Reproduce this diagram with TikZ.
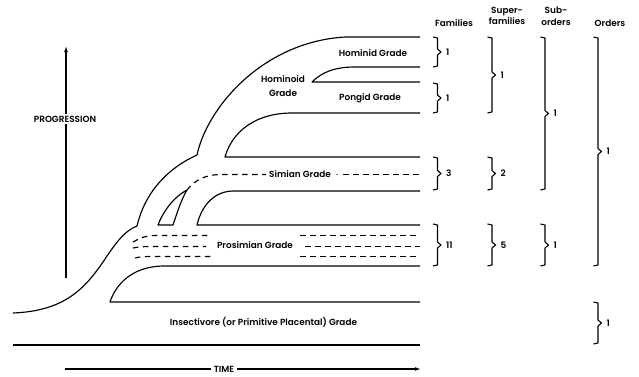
\documentclass[tikz,border=0pt]{standalone}
\usepackage{fontspec}
\setmainfont{Poppins}[UprightFont={Poppins SemiBold}]
\usetikzlibrary{arrows.meta}
\tikzset{
  ln/.style={line width=1.15pt, line join=round},
  dsh/.style={line width=1.15pt, dash pattern=on 5.5pt off 4.5pt},
  lbl/.style={font=\fontsize{8.9}{10}\selectfont, inner sep=0.5pt},
  hdr/.style={font=\fontsize{8.9}{11.5}\selectfont, inner sep=0.5pt, align=center},
  brk/.style={line width=1.1pt, line join=round},
  arr/.style={line width=1.1pt, -{Latex[length=6pt,width=3.8pt]}}
}
\newcommand{\mybrk}[4]{%
  \draw[brk] (#1-4.5,#2) -- (#1,#2+1) -- (#1,{(#2+#3)/2-3}) -- (#1+3.5,{(#2+#3)/2}) -- (#1,{(#2+#3)/2+3}) -- (#1,#3-1) -- (#1-4.5,#3);
  \node[lbl, anchor=west] at (#1+8,{(#2+#3)/2}) {#4};}
\begin{document}
\begin{tikzpicture}[x=1pt,y=-1pt]
\useasboundingbox (0,0) rectangle (639,376);
% outer contour
\draw[ln] (13,313) .. controls (65,311) and (85,288) .. (103,262)
  .. controls (115,244) and (124,231) .. (137,226)
  .. controls (145,192) and (168,168) .. (197,155)
  .. controls (207,108) and (262,42) .. (345,37) -- (420,37);
% pongid wedge
\draw[ln] (420,67) -- (355,67) .. controls (335,67) and (322,72) .. (312,82) -- (420,82);
% hominoid inner / simian top
\draw[ln] (420,113) -- (292,113) .. controls (255,113) and (232,132) .. (225,157) -- (420,157);
% simian dashed
\draw[dsh] (187,190) .. controls (195,180) and (205,174.5) .. (222,174.5) -- (266,174.5);
\fill (337,174.5) circle (0.7pt);
\draw[dsh] (343,174.5) -- (420,174.5);
% small wedge
\draw[ln] (187,190) .. controls (172,198) and (162,214) .. (158,225) -- (173,225) .. controls (178,210) and (182,198) .. (187,190);
% simian lower
\draw[ln] (420,191) -- (232,191) .. controls (212,192) and (201,208) .. (197,225) -- (420,225);
% prosimian dashed
\draw[dsh] (133,242) .. controls (140,238) and (146,235.5) .. (156,235.5) -- (211,235.5);
\draw[dsh] (133,248) .. controls (140,246.5) and (146,246.5) .. (156,246.5) -- (206,246.5);
\draw[dsh] (135,258) .. controls (141,256.5) and (146,256.5) .. (154,256.5) -- (211,256.5);
\draw[dsh] (300,235.5) -- (420,235.5);
\draw[dsh] (305,246.5) -- (420,246.5);
\draw[dsh] (300,256.5) -- (420,256.5);
% prosimian lower / insectivore top
\draw[ln] (420,266) -- (162,266) .. controls (132,267) and (116,284) .. (110,302) -- (420,302);
% bottom line
\draw[ln] (13,345) -- (420,345);
% labels
\node[lbl] (hominid) at (373,53) {Hominid Grade};
\node[lbl] (pongid) at (370,98) {Pongid Grade};
\node[lbl, align=center, font=\fontsize{8.9}{14}\selectfont] (hominoid) at (283,86) {Hominoid\\Grade};
\node[lbl] (simian) at (300,174) {Simian Grade};
\node[lbl] (prosimian) at (255,245.5) {Prosimian Grade};
\node[lbl] (insect) at (263.5,322) {Insectivore (or Primitive Placental) Grade};
% axes
\coordinate (p0) at (66,278);
\coordinate (p1) at (66,46);
\draw[arr] (p0) -- (p1);
\node[lbl, fill=white, inner sep=1.5pt] (prog) at (65,119) {PROGRESSION};
\coordinate (t0) at (65,369);
\coordinate (t1) at (421,369);
\draw[arr] (t0) -- (t1);
\node[lbl, fill=white, inner sep=2.5pt] (time) at (224,369) {TIME};
% headers
\node[hdr] (fam) at (454,23) {Families};
\node[hdr] (sfam) at (507,16) {Super-\\families};
\node[hdr] (sord) at (556,16) {Sub-\\orders};
\node[hdr] (ord) at (610,23) {Orders};
% brackets
\mybrk{437.5}{37}{67}{1}
\mybrk{437.5}{83}{113}{1}
\mybrk{437.5}{157}{190}{3}
\mybrk{437.5}{224}{266}{11}
\mybrk{492}{37}{113}{1}
\mybrk{492}{157}{190}{2}
\mybrk{492}{224}{266}{5}
\mybrk{545}{37}{190}{1}
\mybrk{545}{224}{266}{1}
\mybrk{598}{37}{266}{1}
\mybrk{598}{302}{344}{1}
\end{tikzpicture}
\end{document}
